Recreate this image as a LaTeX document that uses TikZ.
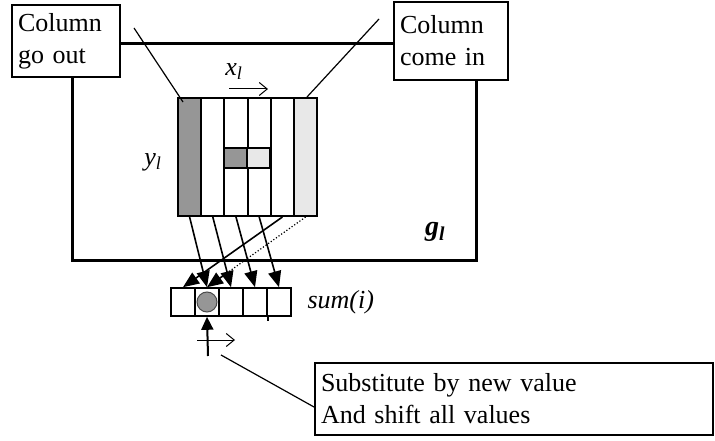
\documentclass[tikz,border=0pt]{standalone}
\usepackage{fontspec}
\setmainfont{Liberation Serif}
\usetikzlibrary{arrows.meta,positioning,calc}
\definecolor{darkcell}{RGB}{150,150,150}
\definecolor{lightcell}{RGB}{232,232,232}

\begin{document}
\begin{tikzpicture}[
    x=1pt, y=-1pt,
    every node/.style={font=\fontsize{26}{32}\selectfont},
    labelbox/.style={rectangle, draw, line width=2pt, fill=white, align=left,
        inner xsep=6pt, anchor=north west},
    colcell/.style={rectangle, draw, line width=2pt, inner sep=0pt,
        minimum width=23.2pt, minimum height=118pt},
    sumcell/.style={rectangle, draw, line width=1.6pt, inner sep=0pt,
        minimum width=24pt, minimum height=28pt},
    feed/.style={-{Triangle[length=16pt,width=13pt]}, line width=1.6pt},
    shiftarrow/.style={-{Straight Barb[length=8pt,width=13pt]}, line width=1pt}
]
\useasboundingbox (0,0) rectangle (715,441);

% frame g_l
\draw[line width=3pt] (72,44) rectangle (476,260);
\node[font=\fontsize{28}{32}\selectfont\bfseries\itshape] (gl) at (435,232) {g\textsubscript{l}};

% columns of the window
\foreach \i/\f in {1/darkcell,2/white,3/white,4/white,5/white,6/lightcell}
    \node[colcell, fill=\f] (col\i) at ({166.4+23.2*\i},157) {};
\node[colcell, fill=darkcell, minimum height=20pt] (midl) at (235.6,158) {};
\node[colcell, fill=lightcell, minimum height=20pt] (midr) at (258.8,158) {};

\node[font=\fontsize{26}{32}\selectfont\itshape] (xl) at (234,72) {x\textsubscript{l}};
\draw[shiftarrow] (229,89) -- (268,89);
\node[font=\fontsize{26}{32}\selectfont\itshape] (yl) at (153,162) {y\textsubscript{l}};

% labels on top
\node[labelbox, minimum width=108pt, minimum height=72pt, text width=96pt] (goout) at (11,4) {Column\\go out};
\node[labelbox, minimum width=114pt, minimum height=78pt, text width=102pt] (comein) at (393,1) {Column\\come in};
\coordinate (outtail) at (134,28);
\coordinate (intail) at (379,19);
\draw[line width=1.2pt] (outtail) -- (183,102);
\draw[line width=1.2pt] (intail) -- (307,97);

% sum(i) row
\foreach \i in {1,...,5}
    \node[sumcell] (s\i) at ({159+24*\i},302) {};
\draw[line width=1.6pt] (s4.south east) -- ++(0,4);
\node[circle, draw=black!70, fill=darkcell, line width=1pt, minimum size=20pt, inner sep=0pt] (newval) at (s2) {};
\node[font=\fontsize{26}{32}\selectfont\itshape, anchor=west] (sumlabel) at (304,302) {sum(i)};

\draw[feed] (col1.south) -- (s2.north);
\draw[feed] (col2.south) -- (s3.north);
\draw[feed] (col3.south) -- (s4.north);
\draw[feed] (col4.south) -- (s5.north);
\draw[feed] (col5.south) -- (s1.north);
\draw[line width=1.2pt, dotted, shorten >=12pt] (col6.south) -- (s2.north);
\draw[feed] ($(col6.south)!0.8!(s2.north)$) -- (s2.north);

% insert and shift
\coordinate (uptail) at (208,356);
\draw[-{Triangle[length=13pt,width=12pt]}, line width=2pt] (uptail) -- (s2.south);
\draw[shiftarrow] (197,340) -- (235,340);

\node[labelbox, minimum width=398pt, minimum height=72pt, text width=386pt] (subst) at (314,362)
    {Substitute by new value\\And shift all values};
\coordinate (calltail) at (221,355);
\draw[line width=1.2pt] (calltail) -- ([yshift=-8pt]subst.west);

\end{tikzpicture}
\end{document}
